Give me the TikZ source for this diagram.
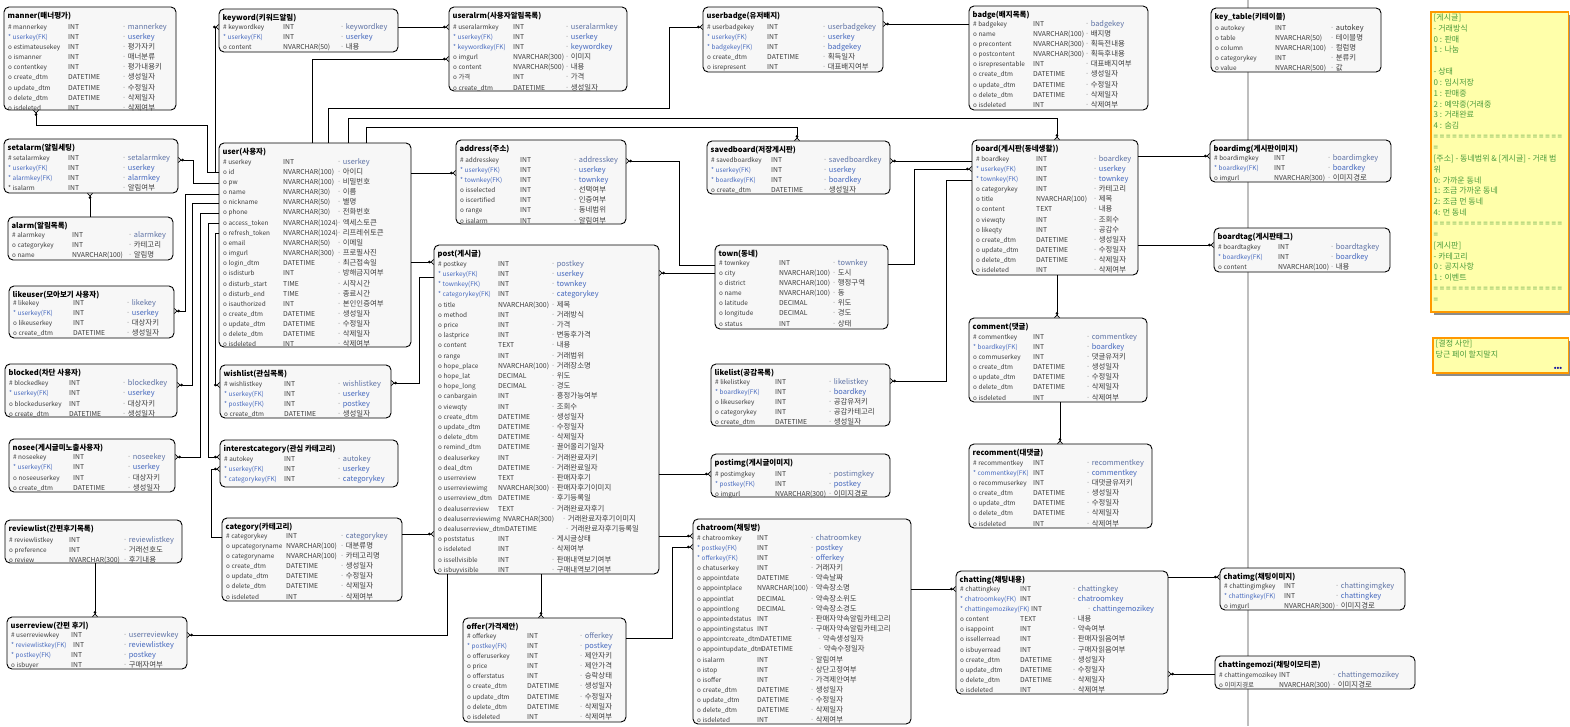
\documentclass[tikz,border=0pt]{standalone}
\usepackage{fontspec}
\setmainfont{Noto Sans CJK KR}
\usetikzlibrary{arrows.meta}

\definecolor{fkblue}{RGB}{70,105,190}
\definecolor{pkcom}{RGB}{95,115,165}
\definecolor{txt}{RGB}{60,60,60}
\definecolor{boxfill}{RGB}{247,247,247}
\definecolor{notefill}{RGB}{255,255,170}
\definecolor{noteline}{RGB}{255,153,0}
\definecolor{notetext}{RGB}{75,155,60}
\definecolor{guide}{RGB}{190,190,190}
\definecolor{dotc}{RGB}{150,150,150}
\definecolor{morec}{RGB}{20,20,160}

\tikzset{
  tblbox/.style={draw=black, fill=boxfill, line width=0.9pt, rounded corners=5pt, inner sep=0pt, outer sep=0pt},
  tbltitle/.style={anchor=base west, inner sep=0pt, font=\fontsize{7.5}{8}\selectfont\bfseries},
  cellname/.style={anchor=base west, inner sep=0pt, font=\fontsize{6.4}{7}\selectfont},
  celltype/.style={anchor=base west, inner sep=0pt, font=\fontsize{6.8}{7}\selectfont, text=txt},
  cellcom/.style={anchor=base west, inner sep=0pt, font=\fontsize{7.4}{8}\selectfont},
  namepk/.style={text=txt}, namefk/.style={text=fkblue}, nameot/.style={text=txt},
  compk/.style={text=pkcom}, comfk/.style={text=fkblue}, comot/.style={text=txt},
  rel/.style={draw=black, line width=0.8pt,
    -{Circle[length=2.6pt,width=2.6pt,fill=white] Straight Barb[reversed,length=2.4pt,width=5pt]}},
  notebox/.style={draw=noteline, fill=notefill, line width=1.5pt, inner sep=0pt, outer sep=0pt, anchor=north west},
  noteshadow/.style={fill=black!45, inner sep=0pt, outer sep=0pt, anchor=north west},
  notetxt/.style={anchor=north west, inner sep=0pt, align=left, text=notetext, font=\fontsize{8}{10.85}\selectfont},
}

% one entity box: name, x1, y1, x2, y2, title, first-row offset, comment column offset
\newcount\rowcount
\newcommand\tbl[8]{%
  \node[tblbox, minimum width=#4pt-#2pt, minimum height=#5pt-#3pt, anchor=north west] (#1) at (#2,#3) {};%
  \node[tbltitle] (#1-title) at (#2+3.5,#3+11) {#6};%
  \gdef\tn{#1}\gdef\tx{#2}\gdef\ty{#3}\global\rowcount=0\relax
  \gdef\rowy{#7}\gdef\ca{4}\gdef\cb{64}\gdef\cc{#8}\gdef\rowdy{10.15}}
% one attribute row: comment shift, type shift, style, name, type, comment
\newcommand\erow[6]{%
  \pgfmathsetmacro\ry{\ty+\rowy+\the\rowcount*\rowdy+2.2}%
  \edef\rn{\tn-\the\rowcount}%
  \node[cellname,name#3] (\rn-n) at (\tx+\ca,\ry) {#4};%
  \node[celltype] (\rn-t) at (\tx+\cb+#2,\ry) {#5};%
  \node[cellcom,com#3] (\rn-c) at (\tx+\cc+#1,\ry) {\textcolor{dotc}{·}\hspace{1.5pt}#6};%
  \global\advance\rowcount by 1\relax}
\newcommand\rp[4][0]{\erow{#1}{0}{pk}{\#\hspace{1.5pt}#2}{#3}{#4}}
\newcommand\rf[4][0]{\erow{#1}{0}{fk}{*\hspace{1.5pt}#2}{#3}{#4}}
\newcommand\ro[4][0]{\erow{#1}{0}{ot}{o\hspace{1.5pt}#2}{#3}{#4}}
\newcommand\eqc{\makebox[6.2pt][l]{=}}
\newcommand\eqrow{\eqc\eqc\eqc\eqc\eqc\eqc\eqc\eqc\eqc\eqc\eqc\eqc\eqc\eqc\eqc\eqc\eqc\eqc\eqc\eqc\eqc}

\begin{document}
\begin{tikzpicture}[x=1pt,y=-1pt]
\useasboundingbox (0,0) rectangle (1570,726);
\fill[white] (0,0) rectangle (1570,726);

% page guide
\coordinate (gtop) at (1248,0);
\coordinate (gbot) at (1248,726);
\draw[guide, line width=1.2pt] (gtop) -- (gbot);

% ---------- entities ----------
\tbl{manner}{4}{7}{176}{110}{manner(매너평가)}{20}{118}
\rp{mannerkey}{INT}{mannerkey}
\rf{userkey(FK)}{INT}{userkey}
\ro{estimateusekey}{INT}{평가자키}
\ro{ismanner}{INT}{매너분류}
\ro{contentkey}{INT}{평가내용키}
\ro{create\_dtm}{DATETIME}{생성일자}
\ro{update\_dtm}{DATETIME}{수정일자}
\ro{delete\_dtm}{DATETIME}{삭제일자}
\ro{isdeleted}{INT}{삭제여부}

\tbl{keyword}{219}{9}{398}{52}{keyword(키워드알림)}{18}{121}
\rp{keywordkey}{INT}{keywordkey}
\rf{userkey(FK)}{INT}{userkey}
\ro{content}{NVARCHAR(50)}{내용}

\tbl{useralrm}{449}{7}{627}{91}{useralrm(사용자알림목록)}{20}{116}
\rp{useralarmkey}{INT}{useralarmkey}
\rf{userkey(FK)}{INT}{userkey}
\rf{keywordkey(FK)}{INT}{keywordkey}
\ro{imgurl}{NVARCHAR(300)}{이미지}
\ro{content}{NVARCHAR(500)}{내용}
\ro{가격}{INT}{가격}
\ro{create\_dtm}{DATETIME}{생성일자}

\tbl{userbadge}{703}{7}{883}{72}{userbadge(유저배지)}{20}{119}
\rp{userbadgekey}{INT}{userbadgekey}
\rf{userkey(FK)}{INT}{userkey}
\rf{badgekey(FK)}{INT}{badgekey}
\ro{create\_dtm}{DATETIME}{획득일자}
\ro{isrepresent}{INT}{대표배지여부}

\tbl{badge}{969}{6}{1148}{110}{badge(배지목록)}{18}{116}
\rp{badgekey}{INT}{badgekey}
\ro{name}{NVARCHAR(100)}{배지명}
\ro{precontent}{NVARCHAR(300)}{획득전내용}
\ro{postcontent}{NVARCHAR(300)}{획득후내용}
\ro{isrepresentable}{INT}{대표배지여부}
\ro{create\_dtm}{DATETIME}{생성일자}
\ro{update\_dtm}{DATETIME}{수정일자}
\ro{delete\_dtm}{DATETIME}{삭제일자}
\ro{isdeleted}{INT}{삭제여부}

\tbl{keytable}{1211}{8}{1381}{72}{key\_table(키테이블)}{20}{119}
\ro{autokey}{INT}{autokey}
\ro{table}{NVARCHAR(50)}{테이블명}
\ro{column}{NVARCHAR(100)}{컬럼명}
\ro{categorykey}{INT}{분류키}
\ro{value}{NVARCHAR(500)}{값}

\tbl{setalarm}{4}{139}{178}{193}{setalarm(알림세팅)}{19}{118}
\rp{setalarmkey}{INT}{setalarmkey}
\rf{userkey(FK)}{INT}{userkey}
\rf{alarmkey(FK)}{INT}{alarmkey}
\erow{0}{0}{ot}{*\hspace{1.5pt}isalarm}{INT}{알림여부}

\tbl{alarm}{8}{217}{173}{260}{alarm(알림목록)}{18}{120}
\rp{alarmkey}{INT}{alarmkey}
\ro{categorykey}{INT}{카테고리}
\ro{name}{NVARCHAR(100)}{알림명}

\tbl{likeuser}{9}{286}{174}{338}{likeuser(모아보기 사용자)}{17}{117}
\rp{likekey}{INT}{likekey}
\rf{userkey(FK)}{INT}{userkey}
\ro{likeuserkey}{INT}{대상자키}
\ro{create\_dtm}{DATETIME}{생성일자}

\tbl{blocked}{5}{364}{177}{417}{blocked(차단 사용자)}{19.5}{117}
\rp{blockedkey}{INT}{blockedkey}
\rf{userkey(FK)}{INT}{userkey}
\ro{blockeduserkey}{INT}{대상자키}
\ro{create\_dtm}{DATETIME}{생성일자}

\tbl{nosee}{9}{439}{175}{492}{nosee(게시글미노출사용자)}{18.5}{118}
\rp{noseekey}{INT}{noseekey}
\rf{userkey(FK)}{INT}{userkey}
\ro{noseeuserkey}{INT}{대상자키}
\ro{create\_dtm}{DATETIME}{생성일자}

\tbl{reviewlist}{5}{520}{182}{563}{reviewlist(간편후기목록)}{20}{118}
\rp{reviewlistkey}{INT}{reviewlistkey}
\ro{preference}{INT}{거래선호도}
\ro{review}{NVARCHAR(300)}{후기내용}

\tbl{userreview}{7}{617}{187}{669}{userreview(간편 후기)}{18}{116}
\rp{userreviewkey}{INT}{userreviewkey}
\erow{0}{2}{fk}{*\hspace{1.5pt}reviewlistkey(FK)}{INT}{reviewlistkey}
\rf{postkey(FK)}{INT}{postkey}
\ro{isbuyer}{INT}{구매자여부}

\tbl{user}{219}{143}{411}{347}{user(사용자)}{19}{118}
\rp{userkey}{INT}{userkey}
\ro{id}{NVARCHAR(100)}{아이디}
\ro{pw}{NVARCHAR(100)}{비밀번호}
\ro{name}{NVARCHAR(30)}{이름}
\ro{nickname}{NVARCHAR(50)}{별명}
\ro{phone}{NVARCHAR(30)}{전화번호}
\ro{access\_token}{NVARCHAR(1024)}{엑세스토큰}
\ro{refresh\_token}{NVARCHAR(1024)}{리프레쉬토큰}
\ro{email}{NVARCHAR(50)}{이메일}
\ro{imgurl}{NVARCHAR(300)}{프로필사진}
\ro{login\_dtm}{DATETIME}{최근접속일}
\ro{isdisturb}{INT}{방해금지여부}
\ro{disturb\_start}{TIME}{시작시간}
\ro{disturb\_end}{TIME}{종료시간}
\ro{isauthorized}{INT}{본인인증여부}
\ro{create\_dtm}{DATETIME}{생성일자}
\ro{update\_dtm}{DATETIME}{수정일자}
\ro{delete\_dtm}{DATETIME}{삭제일자}
\ro{isdeleted}{INT}{삭제여부}

\tbl{wishlist}{220}{365}{391}{418}{wishlist(관심목록)}{19}{117}
\rp{wishlistkey}{INT}{wishlistkey}
\rf{userkey(FK)}{INT}{userkey}
\rf{postkey(FK)}{INT}{postkey}
\ro{create\_dtm}{DATETIME}{생성일자}

\tbl{interestcategory}{220}{440}{398}{487}{interestcategory(관심 카테고리)}{19}{117}
\rp{autokey}{INT}{autokey}
\rf{userkey(FK)}{INT}{userkey}
\rf{categorykey(FK)}{INT}{categorykey}

\tbl{category}{222}{518}{402}{601}{category(카테고리)}{18}{118}
\rp{categorykey}{INT}{categorykey}
\ro{upcategoryname}{NVARCHAR(100)}{대분류명}
\ro{categoryname}{NVARCHAR(100)}{카테고리명}
\ro{create\_dtm}{DATETIME}{생성일자}
\ro{update\_dtm}{DATETIME}{수정일자}
\ro{delete\_dtm}{DATETIME}{삭제일자}
\ro{isdeleted}{INT}{삭제여부}

\tbl{address}{456}{140}{626}{224}{address(주소)}{20}{117}
\rp{addresskey}{INT}{addresskey}
\rf{userkey(FK)}{INT}{userkey}
\rf{townkey(FK)}{INT}{townkey}
\ro{isselected}{INT}{선택여부}
\ro{iscertified}{INT}{인증여부}
\ro{range}{INT}{동네범위}
\ro{isalarm}{INT}{알림여부}

\tbl{savedboard}{707}{141}{890}{194}{savedboard(저장게시판)}{19}{116}
\rp{savedboardkey}{INT}{savedboardkey}
\rf{userkey(FK)}{INT}{userkey}
\rf{boardkey(FK)}{INT}{boardkey}
\ro{create\_dtm}{DATETIME}{생성일자}

\tbl{board}{972}{140}{1138}{275}{board(게시판(동네생활))}{19}{121}
\rp{boardkey}{INT}{boardkey}
\rf{userkey(FK)}{INT}{userkey}
\rf{townkey(FK)}{INT}{townkey}
\ro{categorykey}{INT}{카테고리}
\ro{title}{NVARCHAR(100)}{제목}
\ro{content}{TEXT}{내용}
\ro{viewqty}{INT}{조회수}
\ro{likeqty}{INT}{공감수}
\ro{create\_dtm}{DATETIME}{생성일자}
\ro{update\_dtm}{DATETIME}{수정일자}
\ro{delete\_dtm}{DATETIME}{삭제일자}
\ro{isdeleted}{INT}{삭제여부}

\tbl{boardimg}{1210}{140}{1391}{182}{boardimg(게시판이미지)}{18}{117}
\rp{boardimgkey}{INT}{boardimgkey}
\rf{boardkey(FK)}{INT}{boardkey}
\ro{imgurl}{NVARCHAR(300)}{이미지경로}

\tbl{boardtag}{1214}{228}{1390}{272}{boardtag(게시판태그)}{19}{116}
\rp{boardtagkey}{INT}{boardtagkey}
\rf{boardkey(FK)}{INT}{boardkey}
\ro{content}{NVARCHAR(100)}{내용}

\tbl{town}{715}{245}{888}{329}{town(동네)}{18}{117}
\rp{townkey}{INT}{townkey}
\ro{city}{NVARCHAR(100)}{도시}
\ro{district}{NVARCHAR(100)}{행정구역}
\ro{name}{NVARCHAR(100)}{동}
\ro{latitude}{DECIMAL}{위도}
\ro{longitude}{DECIMAL}{경도}
\ro{status}{INT}{상태}

\tbl{likelist}{711}{364}{890}{426}{likelist(공감목록)}{18}{117}
\rp{likelistkey}{INT}{likelistkey}
\rf{boardkey(FK)}{INT}{boardkey}
\ro{likeuserkey}{INT}{공감유저키}
\ro{categorykey}{INT}{공감카테고리}
\ro{create\_dtm}{DATETIME}{생성일자}

\tbl{postimg}{711}{454}{890}{497}{postimg(게시글이미지)}{20}{117}
\rp{postimgkey}{INT}{postimgkey}
\rf{postkey(FK)}{INT}{postkey}
\ro{imgurl}{NVARCHAR(300)}{이미지경로}

\tbl{post}{434}{245}{659}{574}{post(게시글)}{19}{117}
\gdef\rowdy{10.2}
\rp{postkey}{INT}{postkey}
\rf{userkey(FK)}{INT}{userkey}
\rf{townkey(FK)}{INT}{townkey}
\rf{categorykey(FK)}{INT}{categorykey}
\ro{title}{NVARCHAR(300)}{제목}
\ro{method}{INT}{거래방식}
\ro{price}{INT}{가격}
\ro{lastprice}{INT}{변동후가격}
\ro{content}{TEXT}{내용}
\ro{range}{INT}{거래범위}
\ro{hope\_place}{NVARCHAR(100)}{거래장소명}
\ro{hope\_lat}{DECIMAL}{위도}
\ro{hope\_long}{DECIMAL}{경도}
\ro{canbargain}{INT}{흥정가능여부}
\ro{viewqty}{INT}{조회수}
\ro{create\_dtm}{DATETIME}{생성일자}
\ro{update\_dtm}{DATETIME}{수정일자}
\ro{delete\_dtm}{DATETIME}{삭제일자}
\ro{remind\_dtm}{DATETIME}{끌어올리기일자}
\ro{dealuserkey}{INT}{거래완료자키}
\ro{deal\_dtm}{DATETIME}{거래완료일자}
\ro{userreview}{TEXT}{판매자후기}
\ro{userreviewimg}{NVARCHAR(300)}{판매자후기이미지}
\ro{userreview\_dtm}{DATETIME}{후기등록일}
\ro{dealuserreview}{TEXT}{거래완료자후기}
\erow{11}{5}{ot}{o\hspace{1.5pt}dealuserreviewimg}{NVARCHAR(300)}{거래완료자후기이미지}
\erow{14}{7}{ot}{o\hspace{1.5pt}dealuserreview\_dtm}{DATETIME}{거래완료자후기등록일}
\ro{poststatus}{INT}{게시글상태}
\ro{isdeleted}{INT}{삭제여부}
\ro{issellvisible}{INT}{판매내역보기여부}
\ro{isbuyvisible}{INT}{구매내역보기여부}

\tbl{offer}{463}{618}{626}{722}{offer(가격제안)}{18}{116}
\rp{offerkey}{INT}{offerkey}
\rf{postkey(FK)}{INT}{postkey}
\ro{offeruserkey}{INT}{제안자키}
\ro{price}{INT}{제안가격}
\ro{offerstatus}{INT}{승락상태}
\ro{create\_dtm}{DATETIME}{생성일자}
\ro{update\_dtm}{DATETIME}{수정일자}
\ro{delete\_dtm}{DATETIME}{삭제일자}
\ro{isdeleted}{INT}{삭제여부}

\tbl{chatroom}{693}{519}{911}{724}{chatroom(채팅방)}{19}{117}
\rp{chatroomkey}{INT}{chatroomkey}
\rf{postkey(FK)}{INT}{postkey}
\rf{offerkey(FK)}{INT}{offerkey}
\ro{chatuserkey}{INT}{거래자키}
\ro{appointdate}{DATETIME}{약속날짜}
\ro{appointplace}{NVARCHAR(100)}{약속장소명}
\ro{appointlat}{DECIMAL}{약속장소위도}
\ro{appointlong}{DECIMAL}{약속장소경도}
\ro{appointedstatus}{INT}{판매자약속알림카테고리}
\ro{appointingstatus}{INT}{구매자약속알림카테고리}
\erow{7}{3}{ot}{o\hspace{1.5pt}appointcreate\_dtm}{DATETIME}{약속생성일자}
\erow{8}{4}{ot}{o\hspace{1.5pt}appointupdate\_dtm}{DATETIME}{약속수정일자}
\ro{isalarm}{INT}{알림여부}
\ro{istop}{INT}{상단고정여부}
\ro{isoffer}{INT}{가격제안여부}
\ro{create\_dtm}{DATETIME}{생성일자}
\ro{update\_dtm}{DATETIME}{수정일자}
\ro{delete\_dtm}{DATETIME}{삭제일자}
\ro{isdeleted}{INT}{삭제여부}

\tbl{chatting}{956}{571}{1168}{694}{chatting(채팅내용)}{18}{116}
\rp{chattingkey}{INT}{chattingkey}
\rf{chatroomkey(FK)}{INT}{chatroomkey}
\erow{15}{11}{fk}{*\hspace{1.5pt}chattingemozikey(FK)}{INT}{chattingemozikey}
\ro{content}{TEXT}{내용}
\ro{isappoint}{INT}{약속여부}
\ro{issellerread}{INT}{판매자읽음여부}
\ro{isbuyerread}{INT}{구매자읽음여부}
\ro{create\_dtm}{DATETIME}{생성일자}
\ro{update\_dtm}{DATETIME}{수정일자}
\ro{delete\_dtm}{DATETIME}{삭제일자}
\ro{isdeleted}{INT}{삭제여부}

\tbl{chatimg}{1220}{568}{1405}{610}{chatimg(채팅이미지)}{18}{115}
\rp{chattingimgkey}{INT}{chattingimgkey}
\rf{chattingkey(FK)}{INT}{chattingkey}
\ro{imgurl}{NVARCHAR(300)}{이미지경로}

\tbl{chattingemozi}{1215}{656}{1415}{689}{chattingemozi(채팅이모티콘)}{19}{117}
\rp{chattingemozikey}{INT}{chattingemozikey}
\ro{이미지경로}{NVARCHAR(300)}{이미지경로}

\tbl{comment}{969}{318}{1147}{402}{comment(댓글)}{19}{117}
\rp{commentkey}{INT}{commentkey}
\rf{boardkey(FK)}{INT}{boardkey}
\ro{commuserkey}{INT}{댓글유저키}
\ro{create\_dtm}{DATETIME}{생성일자}
\ro{update\_dtm}{DATETIME}{수정일자}
\ro{delete\_dtm}{DATETIME}{삭제일자}
\ro{isdeleted}{INT}{삭제여부}

\tbl{recomment}{969}{444}{1152}{528}{recomment(대댓글)}{19}{117}
\rp{recommentkey}{INT}{recommentkey}
\rf{commentkey(FK)}{INT}{commentkey}
\ro{recommuserkey}{INT}{대댓글유저키}
\ro{create\_dtm}{DATETIME}{생성일자}
\ro{update\_dtm}{DATETIME}{수정일자}
\ro{delete\_dtm}{DATETIME}{삭제일자}
\ro{isdeleted}{INT}{삭제여부}

% ---------- relationships (crow's foot at the child end) ----------
\draw[rel] (user.west |- 0,172) -- (207,172) -- (207,125) -- (36,125) -- (manner.south -| 36,0);
\draw[rel] (user.west |- 0,172) -- (215,172) -- (215,27) -- (keyword.west |- 0,27);
\draw[rel] (user.west |- 0,183) -- (193,183) -- (193,160) -- (setalarm.east |- 0,160);
\draw[rel] (alarm.north -| 90,0) -- (setalarm.south -| 90,0);
\draw[rel] (user.west |- 0,194) -- (185,194) -- (185,311) -- (likeuser.east |- 0,311);
\draw[rel] (user.west |- 0,203) -- (192,203) -- (192,385) -- (blocked.east |- 0,385);
\draw[rel] (user.west |- 0,213) -- (200,213) -- (200,457) -- (nosee.east |- 0,457);
\draw[rel] (user.west |- 0,223) -- (208,223) -- (208,457) -- (interestcategory.west |- 0,457);
\draw[rel] (user.west |- 0,233) -- (215,233) -- (215,385) -- (wishlist.west |- 0,385);
\draw[rel] (category.west |- 0,537) -- (211,537) -- (211,469) -- (interestcategory.west |- 0,469);
\draw[rel] (user.north -| 312,0) -- (312,59) -- (useralrm.west |- 0,59);
\draw[rel] (keyword.east |- 0,27) -- (useralrm.west |- 0,27);
\draw[rel] (user.north -| 328,0) -- (328,108) -- (669,108) -- (669,27) -- (userbadge.west |- 0,27);
\draw[rel] (badge.west |- 0,24) -- (userbadge.east |- 0,24);
\draw[rel] (user.north -| 348,0) -- (348,118) -- (1057,118) -- (board.north -| 1057,0);
\draw[rel] (user.north -| 366,0) -- (366,127) -- (797,127) -- (savedboard.north -| 797,0);
\draw[rel] (user.east |- 0,173) -- (address.west |- 0,173);
\draw[rel] (town.west |- 0,265) -- (679,265) -- (679,161) -- (address.east |- 0,161);
\draw[rel] (board.west |- 0,161) -- (savedboard.east |- 0,161);
\draw[rel] (town.east |- 0,264) -- (914,264) -- (914,169) -- (board.west |- 0,169);
\draw[rel] (board.west |- 0,180) -- (946,180) -- (946,381) -- (likelist.east |- 0,381);
\draw[rel] (board.east |- 0,156) -- (boardimg.west |- 0,156);
\draw[rel] (board.east |- 0,245) -- (boardtag.west |- 0,245);
\draw[rel] (board.south -| 1057,0) -- (comment.north -| 1057,0);
\draw[rel] (comment.south -| 1060,0) -- (recomment.north -| 1060,0);
\draw[rel] (user.east |- 0,262) -- (post.west |- 0,262);
\draw[rel] (post.west |- 0,277) -- (419,277) -- (419,383) -- (wishlist.east |- 0,383);
\draw[rel] (town.west |- 0,273) -- (post.east |- 0,273);
\draw[rel] (post.east |- 0,474) -- (postimg.west |- 0,474);
\draw[rel] (post.east |- 0,536) -- (chatroom.west |- 0,536);
\draw[rel] (offer.east |- 0,638) -- (672,638) -- (672,547) -- (chatroom.west |- 0,547);
\draw[rel] (post.south -| 541,0) -- (offer.north -| 541,0);
\draw[rel] (category.east |- 0,534) -- (post.west |- 0,534);
\draw[rel] (post.south -| 447,0) -- (447,635) -- (userreview.east |- 0,635);
\draw[rel] (reviewlist.south -| 95,0) -- (userreview.north -| 95,0);
\draw[rel] (chatroom.east |- 0,589) -- (chatting.west |- 0,589);
\draw[rel] (chatting.east |- 0,577) -- (chatimg.west |- 0,577);
\draw[rel] (chattingemozi.west |- 0,674) -- (chatting.east |- 0,674);

% ---------- notes ----------
\node[noteshadow, minimum width=138pt, minimum height=300pt] (note1-shadow) at (1434,15) {};
\node[notebox, minimum width=137.5pt, minimum height=300pt] (note1) at (1431,12) {};
\node[notetxt] (note1-text) at (1433.5,13.5) {%
[게시글]\\
- 거래방식\\
0 : 판매\\
1 : 나눔\\
\mbox{}\\
- 상태\\
0 : 임시저장\\
1 : 판매중\\
2 : 예약중(거래중\\
3 : 거래완료\\
4 : 숨김\\
\eqrow\\
=\\{}%
[주소] - 동네범위 \& [게시글] - 거래 범\\
위\\
0: 가까운 동네\\
1: 조금 가까운 동네\\
2: 조금 먼 동네\\
4: 먼 동네\\
\eqrow\\
=\\{}%
[게시판]\\
- 카테고리\\
0 : 공지사항\\
1 : 이벤트\\
\eqrow\\
=};

\node[noteshadow, minimum width=136pt, minimum height=35pt] (note2-shadow) at (1436,341) {};
\node[notebox, minimum width=135.5pt, minimum height=35pt] (note2) at (1433,338) {};
\node[notetxt] (note2-text) at (1435.5,340) {[결정 사안]\\당근 페이 할지말지};
\node[inner sep=0pt, text=morec, font=\fontsize{7}{7}\selectfont\bfseries] (note2-more) at (1558,368.5) {•••};
\end{tikzpicture}
\end{document}
